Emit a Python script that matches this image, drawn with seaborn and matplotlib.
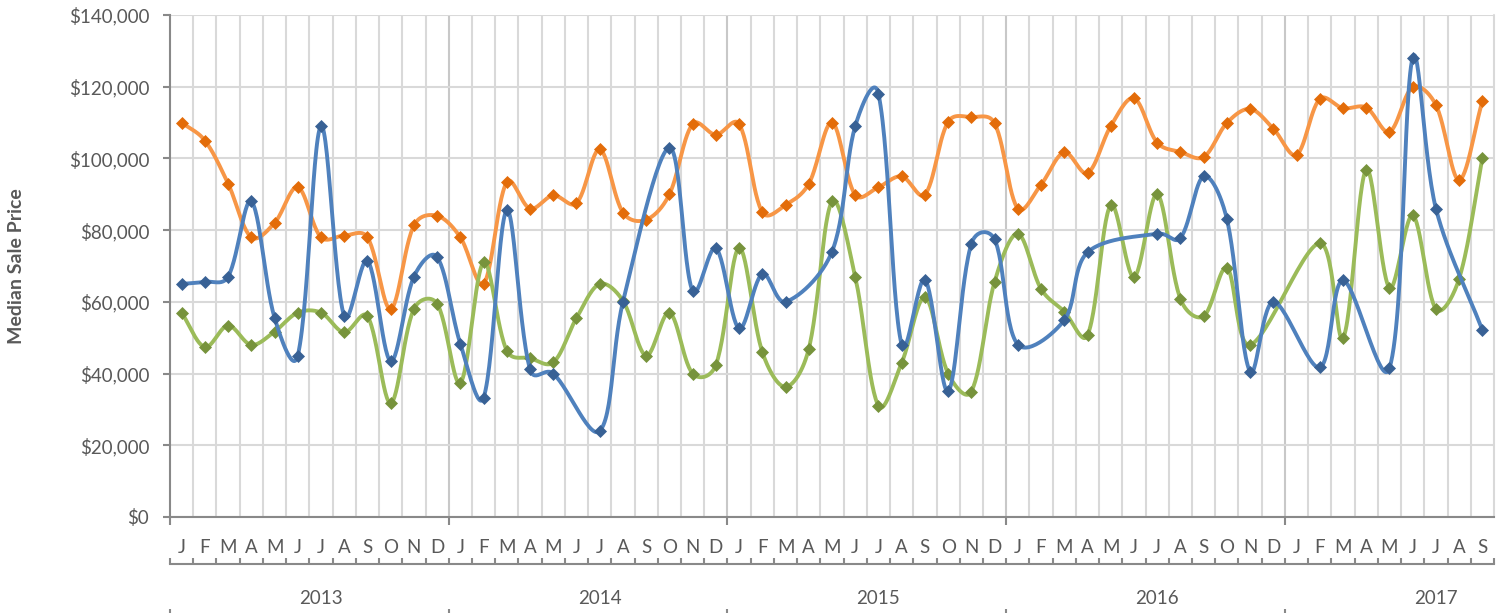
import numpy as np
import matplotlib
matplotlib.use("Agg")
import matplotlib.pyplot as plt
import seaborn as sns
from matplotlib.ticker import FuncFormatter

# ---------------- data ----------------
month_labels = ["J", "F", "M", "A", "M", "J", "J", "A", "S", "O", "N", "D"] * 4 + \
               ["J", "F", "M", "A", "M", "J", "J", "A", "S"]
year_labels = ["2013", "2014", "2015", "2016", "2017"]
year_starts = [0, 12, 24, 36, 48]

nan = np.nan
orange_vals = [110000, 105000, 93000, 78000, 82000, 92000, 78000, 78500, 78000, 58000, 81300, 84000,
               78000, 65000, 93400, 86000, 89700, 87500, 102500, 84900, 82900, 90000, 109600, 106600,
               109600, 85000, 87000, 92900, 110000, 89800, 92000, 95000, 89900, 110200, 111500, 109800,
               86000, 92700, 101700, 95900, 109000, 116800, 104400, 101800, 100400, 109900, 113800, 108300,
               101000, 116600, 114000, 114200, 107400, 119900, 114900, 94000, 116000]
blue_vals = [65000, 65600, 67000, 88000, 55600, 45000, 109000, 56000, 71500, 43500, 67000, 72500,
             48300, 33300, 85500, 41200, 40000, nan, 24000, 60000, nan, 103000, 63000, 75000,
             52600, 67800, 60000, nan, 74000, 109000, 118000, 48000, 66200, 35100, 76200, 77400,
             48100, nan, 54900, 73800, nan, nan, 79000, 77800, 95000, 83100, 40500, 60000,
             nan, 41700, 66000, nan, 41500, 128100, 86000, nan, 52100]
green_vals = [57000, 47400, 53400, 48000, 51700, 57000, 57000, 51500, 56000, 31800, 58000, 59500,
              37400, 71000, 46400, 44300, 43100, 55500, 65000, 60300, 45000, 57000, 40000, 42400,
              75000, 46000, 36300, 46900, 88000, 67000, 31000, 43000, 61300, 40000, 35000, 65600,
              79000, 63600, 57300, 50700, 87000, 66900, 90000, 60800, 56000, 69500, 48000, nan,
              nan, 76400, 49900, 96900, 63900, 84100, 58000, 66500, 100000]

y_ticks = list(range(0, 140001, 20000))

# ---------------- style ----------------
TEXT = "#595959"
GRID = "#d9d9d9"
AXIS = "#898989"

sns.set_theme(style="white")
plt.rcParams['font.family'] = ['Lato', 'DejaVu Sans']

W, H = 1508, 613
fig = plt.figure(figsize=(W / 100, H / 100), dpi=100)
L, R, T, B = 170, 1494, 15, 517
ax = fig.add_axes([L / W, 1 - B / H, (R - L) / W, (B - T) / H])

n = len(month_labels)
xs = np.arange(n)
YMAX = 140000
# pixel scale of the axes (used only to measure distances for the smoothing)
SCALE = np.array([(R - L) / n, (B - T) / YMAX])


def smooth(x, y, steps=30):
    """Excel-like smoothed line: cubic Bezier with tangents weighted by segment lengths."""
    pts = np.array([(a, b) for a, b in zip(x, y) if not np.isnan(b)], dtype=float)
    k = len(pts)
    pix = pts * SCALE
    c_out, c_in = [], []
    for i in range(k):
        pm = pts[i - 1] if i > 0 else pts[i]
        pp = pts[i + 1] if i + 1 < k else pts[i]
        tang = pp - pm
        d_prev = np.sqrt(np.linalg.norm(pix[i] - pix[i - 1])) if i > 0 else 0.0
        d_next = np.sqrt(np.linalg.norm(pix[i + 1] - pix[i])) if i + 1 < k else 0.0
        tot = d_prev + d_next
        if tot == 0:
            c_out.append(pts[i]); c_in.append(pts[i]); continue
        c_out.append(pts[i] + tang * (1 / 3) * d_next / tot)
        c_in.append(pts[i] - tang * (1 / 3) * d_prev / tot)
    out = []
    t = np.linspace(0, 1, steps)[:, None]
    for i in range(k - 1):
        p0, p3 = pts[i], pts[i + 1]
        c1, c2 = c_out[i], c_in[i + 1]
        seg = (1 - t) ** 3 * p0 + 3 * (1 - t) ** 2 * t * c1 + 3 * (1 - t) * t ** 2 * c2 + t ** 3 * p3
        out.append(seg if i == 0 else seg[1:])
    return np.vstack(out)


series = [
    (orange_vals, "#f79646", "#e36c09"),
    (green_vals, "#9bbb59", "#77933c"),
    (blue_vals, "#4f81bd", "#386195"),
]
z = 3
for vals, lc, mc in series:
    c = smooth(xs, vals)
    sns.lineplot(x=c[:, 0], y=c[:, 1], sort=False, estimator=None, color=lc,
                 linewidth=2.8, ax=ax, zorder=z)
    v = np.array(vals, dtype=float)
    m = ~np.isnan(v)
    sns.scatterplot(x=xs[m], y=v[m], marker="D", s=44, color=mc, edgecolor=mc,
                    linewidth=0, ax=ax, zorder=z + 0.5)
    z += 1

# axes limits / grid
ax.set_xlim(-0.5, n - 0.5)
ax.set_ylim(0, YMAX)
ax.set_yticks(y_ticks)
ax.yaxis.set_major_formatter(FuncFormatter(lambda v, p: "${:,.0f}".format(v)))
ax.yaxis.grid(True, color=GRID, linewidth=1.5, zorder=0)
ax.set_axisbelow(True)
for b in np.arange(0.5, n - 0.5, 1):
    is_year = (b + 0.5) in year_starts
    ax.axvline(b, color="#c8c8c8" if is_year else GRID, linewidth=1.5, zorder=0.5)
ax.axvline(n - 0.5, color=GRID, linewidth=1.5, zorder=0.5, clip_on=False)

for s in ["top", "right"]:
    ax.spines[s].set_visible(False)
for s in ["left", "bottom"]:
    ax.spines[s].set_color(AXIS)
    ax.spines[s].set_linewidth(1.5)
    ax.spines[s].set_zorder(2)

ax.tick_params(axis="y", which="major", direction="out", length=5, width=1.5, color=AXIS,
               labelsize=13.5, labelcolor=TEXT, pad=10, left=True)

# month labels
ax.set_xticks(xs)
ax.set_xticklabels(month_labels)
ax.tick_params(axis="x", which="major", length=0, labelsize=13.5, labelcolor=TEXT, pad=15.5)
ax.set_xticks([s - 0.5 for s in year_starts], minor=True)
ax.tick_params(axis="x", which="minor", direction="out", length=6, width=1.5, color=AXIS,
               bottom=True)
ax.set_xlabel("")
ax.set_ylabel("")

# month tick row
sec1 = ax.secondary_xaxis(-(564 - B) / (B - T))
sec1.set_xticks(np.arange(-0.5, n, 1))
sec1.set_xticklabels([])
sec1.tick_params(axis="x", direction="in", length=4, width=1.5, color=AXIS)
sec1.spines["bottom"].set_color(AXIS)
sec1.spines["bottom"].set_linewidth(1.5)

# year labels
sec2 = ax.secondary_xaxis(-(590 - B) / (B - T))
sec2.set_xticks([s + 6 for s in year_starts])
sec2.set_xticklabels(year_labels)
sec2.tick_params(axis="x", length=0, labelsize=13.5, labelcolor=TEXT, pad=0)
sec2.spines["bottom"].set_visible(False)

# year separator ticks
sec3 = ax.secondary_xaxis(-(609 - B) / (B - T))
sec3.set_xticks([s - 0.5 for s in year_starts])
sec3.set_xticklabels([])
sec3.tick_params(axis="x", direction="out", length=6, width=1.5, color=AXIS)
sec3.spines["bottom"].set_visible(False)

fig.text(17 / W, 1 - 266 / H, "Median Sale Price", rotation=90, ha="center", va="center",
         fontsize=14, fontweight="bold", color=TEXT)

fig.savefig("out.png", dpi=100, facecolor="white")
